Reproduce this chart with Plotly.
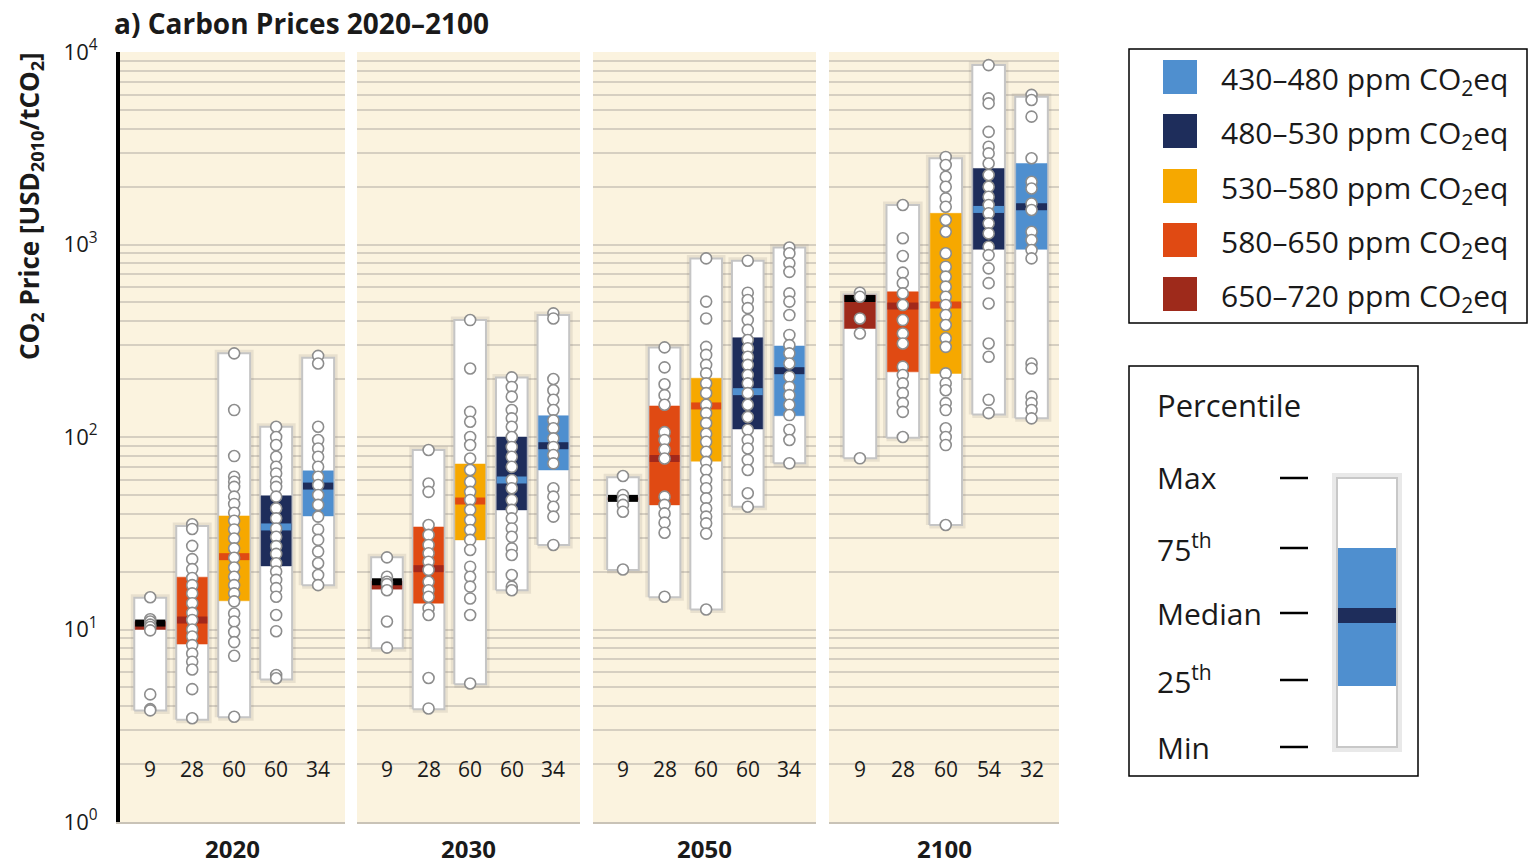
import math
import plotly.graph_objects as go

W, H = 1537, 862
OFF = 8  # page body margin offset
def px(x): return (x - OFF) / W
def py(y): return 1 - (y - OFF) / H

# ---------------- data ----------------
years = ["2020", "2030", "2050", "2100"]
concentration_labels = ["650–720", "580–650", "530–580", "480–530", "430–480"]
iqr_colors = ["#9e2a1b", "#e04a13", "#f6a800", "#1e2d5b", "#4f8fcf"]
median_colors = ["#000000", "#a2281b", "#e04a13", "#4f8fcf", "#1e2d5b"]

counts_2020 = [9, 28, 60, 60, 34]
counts_2030 = [9, 28, 60, 60, 34]
counts_2050 = [9, 28, 60, 60, 34]
counts_2100 = [9, 28, 60, 54, 32]

min_2020 = [3.8, 3.4, 3.5, 5.5, 17.0]
q1_2020 = [10.0, 8.4, 14.1, 21.4, 38.9]
med_2020 = [10.8, 11.2, 23.9, 34.1, 55.6]
q3_2020 = [11.0, 18.7, 38.9, 49.5, 66.7]
max_2020 = [14.6, 34.5, 272, 113, 258]

min_2030 = [8.0, 3.85, 5.2, 16.0, 27.5]
q1_2030 = [16.2, 13.7, 29.2, 41.8, 67.4]
med_2030 = [17.7, 20.7, 46.5, 59.8, 90.1]
q3_2030 = [17.9, 34.1, 72.4, 100, 129]
max_2030 = [23.7, 85.6, 405, 204, 430]

min_2050 = [20.4, 14.7, 12.7, 43.4, 73]
q1_2050 = [47.0, 44.4, 74.9, 110, 129]
med_2050 = [48.0, 77.3, 145, 172, 221]
q3_2050 = [48.5, 145, 202, 328, 297]
max_2050 = [61.7, 292, 847, 824, 965]

min_2100 = [77.5, 99, 34.9, 131, 125]
q1_2100 = [366, 218, 214, 944, 944]
med_2100 = [524, 479, 485, 1521, 1571]
q3_2100 = [545, 568, 1452, 2483, 2636]
max_2100 = [550, 1603, 2805, 8551, 5851]

points_2020 = [
    [14.7, 11.3, 11.0, 10.6, 10.3, 9.9, 4.6, 3.86, 3.8],
    [35.2, 33.3, 27.2, 23.2, 20.6, 18.5, 17.0, 15.4, 13.7, 12.2, 11.2, 10.0, 9.2, 8.3, 7.5, 6.8, 6.2, 4.9, 3.46],
    [272, 138, 79.6, 62.2, 58.5, 55.1, 49.0, 44.9, 40.4, 36.7, 33.1, 29.7, 26.4, 23.6, 21.0, 18.8, 17.0, 15.4, 14.0, 12.1, 11.0, 9.7, 8.6, 7.3, 3.52],
    [113, 100, 90.8, 78.9, 70.0, 64.6, 58.5, 55.1, 49.0, 42.6, 37.8, 33.5, 30.3, 27.1, 24.7, 22.1, 20.0, 18.1, 16.4, 14.8, 11.9, 9.8, 5.8, 5.58],
    [264, 241, 113, 96.5, 87.1, 78.9, 70.0, 62.2, 56.3, 50.0, 44.4, 38.6, 33.1, 29.2, 25.4, 22.1, 19.2, 17.0],
]
points_2030 = [
    [23.7, 18.8, 17.7, 17.2, 16.0, 11.0, 8.05],
    [85.6, 57.3, 51.9, 34.9, 31.0, 27.5, 24.9, 22.5, 20.4, 17.7, 16.0, 14.8, 12.9, 11.9, 5.6, 3.89],
    [405, 227, 135, 120, 100, 90.8, 77.3, 67.4, 58.5, 51.9, 47.1, 41.8, 37.0, 32.9, 29.2, 25.9, 21.2, 18.8, 16.7, 14.5, 11.9, 5.24],
    [204, 182, 162, 138, 125, 113, 100, 88.8, 78.9, 70, 59.8, 54.2, 47.1, 41.8, 37.8, 33.5, 30.3, 26.4, 24.4, 19.2, 16.7, 16.0],
    [439, 413, 200, 175, 156, 138, 122, 111, 98.4, 88.8, 80.6, 72.9, 54.2, 49.0, 43.4, 38.6, 27.5],
]
points_2050 = [
    [62.7, 50.0, 47.1, 44.4, 40.9, 20.5],
    [292, 230, 188, 165, 147, 106, 96.5, 86.1, 77.3, 49, 44.4, 40.1, 35.9, 31.8, 14.8],
    [847, 505, 413, 294, 267, 237, 214, 190, 169, 147, 133, 118, 104, 94.4, 83.8, 74.3, 67.4, 59.8, 54.2, 48, 42.6, 38.6, 35.6, 31.5, 12.7],
    [824, 562, 515, 467, 405, 360, 319, 289, 261, 237, 210, 190, 169, 147, 127, 109, 96.5, 87.1, 76, 67.4, 51, 43.4],
    [965, 900, 798, 721, 557, 505, 430, 339, 300, 272, 241, 206, 182, 165, 147, 130, 109, 96.5, 73],
]
points_2100 = [
    [562, 535, 413, 345, 77.5],
    [1603, 1077, 871, 714, 630, 557, 485, 405, 345, 306, 232, 210, 190, 169, 150, 135, 100],
    [2850, 2588, 2249, 1996, 1737, 1571, 1340, 1165, 900, 767, 681, 604, 535, 485, 430, 382, 326, 294, 214, 190, 175, 150, 138, 111, 100, 90.8, 34.9],
    [8551, 5741, 5408, 3846, 3219, 2973, 2636, 2296, 1996, 1771, 1603, 1452, 1288, 1142, 974, 881, 752, 630, 494, 306, 261, 156, 133],
    [5986, 5632, 4614, 2805, 2118, 1954, 1633, 1510, 1165, 1055, 936, 847, 241, 227, 162, 150, 138, 125],
]

decade_values = [1, 10, 100, 1000, 10000]
decade_labels = ["10<sup>0</sup>", "10<sup>1</sup>", "10<sup>2</sup>", "10<sup>3</sup>", "10<sup>4</sup>"]
count_label_level = 1.88

# ---------------- layout/style ----------------
FONT = "Open Sans"
panel_px = [(120, 345), (357, 580), (593, 816), (829, 1059)]
plot_top, plot_bottom = 52, 822
xrange_ = [-0.72, 4.64]
half_w = 0.38
BG = "#fbf3df"
GRID = "#d6cfc1"

panels = [
    (years[0], min_2020, q1_2020, med_2020, q3_2020, max_2020, points_2020, counts_2020),
    (years[1], min_2030, q1_2030, med_2030, q3_2030, max_2030, points_2030, counts_2030),
    (years[2], min_2050, q1_2050, med_2050, q3_2050, max_2050, points_2050, counts_2050),
    (years[3], min_2100, q1_2100, med_2100, q3_2100, max_2100, points_2100, counts_2100),
]

minor_vals = [m * dv for dv in decade_values[:-1] for m in range(2, 10)]

fig = go.Figure()
annotations = []

for p, (year, mins, q1s, meds, q3s, maxs, pts, cnts) in enumerate(panels):
    xa = "x" if p == 0 else f"x{p+1}"
    ya = "y" if p == 0 else f"y{p+1}"
    for i in range(len(concentration_labels)):
        xl, xr = i - half_w, i + half_w
        fig.add_trace(go.Scatter(
            x=[xl, xr, xr, xl, xl], y=[mins[i], mins[i], maxs[i], maxs[i], mins[i]],
            mode="lines", line=dict(color="rgba(110,100,90,0.13)", width=7),
            hoverinfo="skip", showlegend=False, xaxis=xa, yaxis=ya))
        fig.add_trace(go.Scatter(
            x=[xl, xr, xr, xl, xl], y=[mins[i], mins[i], maxs[i], maxs[i], mins[i]],
            mode="lines", fill="toself", fillcolor="white",
            line=dict(color="#c5c5c5", width=2),
            hoverinfo="skip", showlegend=False, xaxis=xa, yaxis=ya))
        il, ir = i - half_w + 0.02, i + half_w - 0.02
        fig.add_trace(go.Scatter(
            x=[il, ir, ir, il, il], y=[q1s[i], q1s[i], q3s[i], q3s[i], q1s[i]],
            mode="lines", fill="toself", fillcolor=iqr_colors[i],
            line=dict(color=iqr_colors[i], width=0.5),
            hoverinfo="skip", showlegend=False, xaxis=xa, yaxis=ya))
        fig.add_trace(go.Scatter(
            x=[il, ir], y=[meds[i], meds[i]], mode="lines",
            line=dict(color=median_colors[i], width=7),
            hoverinfo="skip", showlegend=False, xaxis=xa, yaxis=ya))
        fig.add_trace(go.Scatter(
            x=[i] * len(pts[i]), y=pts[i], mode="markers",
            marker=dict(size=11, color="white", line=dict(color="#8d8d8d", width=1.6)),
            hoverinfo="skip", showlegend=False, xaxis=xa, yaxis=ya))
        annotations.append(dict(
            x=i, y=math.log10(count_label_level), xref=xa, yref=ya,
            text=str(cnts[i]), showarrow=False,
            font=dict(family=FONT, size=21, color="#1a1a1a")))
    annotations.append(dict(
        x=0.5, y=py(848), xref=f"{xa} domain", yref="paper",
        text=f"<b>{year}</b>", showarrow=False, yanchor="middle",
        font=dict(family=FONT, size=24, color="#1a1a1a")))

layout = dict(
    width=W, height=H, margin=dict(l=0, r=0, t=0, b=0, autoexpand=False),
    paper_bgcolor="white", plot_bgcolor=BG, showlegend=False,
    font=dict(family=FONT, color="#1a1a1a"),
)
for p, (a, b) in enumerate(panel_px):
    xkey = "xaxis" if p == 0 else f"xaxis{p+1}"
    ykey = "yaxis" if p == 0 else f"yaxis{p+1}"
    layout[xkey] = dict(
        domain=[px(a), px(b)], range=xrange_, showgrid=False, zeroline=False,
        showticklabels=False, ticks="", showline=True, linecolor="#c9c3b7", linewidth=2,
        anchor="y" if p == 0 else f"y{p+1}", fixedrange=True, automargin=False)
    ydict = dict(
        type="log", range=[0, 4], domain=[py(plot_bottom), py(plot_top)],
        tickmode="array", tickvals=decade_values, ticktext=decade_labels,
        showgrid=True, gridcolor=GRID, gridwidth=1.5, zeroline=False, ticks="",
        minor=dict(tickmode="array", tickvals=minor_vals, showgrid=True,
                   gridcolor=GRID, gridwidth=1.5, ticks=""),
        anchor="x" if p == 0 else f"x{p+1}", fixedrange=True, automargin=False)
    if p == 0:
        ydict.update(showline=True, linecolor="black", linewidth=4,
                     tickfont=dict(family=FONT, size=22, color="#1a1a1a"),
                     ticklabelstandoff=14)
    else:
        ydict.update(matches="y", showticklabels=False, showline=False)
    layout[ykey] = ydict

fig.update_layout(**layout)

annotations.append(dict(
    x=px(112), y=py(23), xref="paper", yref="paper", xanchor="left", yanchor="middle",
    text="<b>a) Carbon Prices 2020–2100</b>", showarrow=False,
    font=dict(family=FONT, size=28, color="#1a1a1a")))
annotations.append(dict(
    x=px(30), y=py(206), xref="paper", yref="paper", xanchor="center", yanchor="middle",
    text="<b>CO<sub>2</sub> Price [USD<sub>2010</sub>/tCO<sub>2</sub>]</b>", textangle=-90,
    showarrow=False, font=dict(family=FONT, size=26, color="#1a1a1a")))

shapes = []
shapes.append(dict(type="rect", xref="paper", yref="paper",
                   x0=px(1129), x1=px(1527), y0=py(323), y1=py(49),
                   line=dict(color="black", width=1.5), fillcolor="white"))
legend_rows_y = [77, 131, 186, 240, 294]
for r, idx in enumerate(range(len(concentration_labels) - 1, -1, -1)):
    yc = legend_rows_y[r]
    shapes.append(dict(type="rect", xref="paper", yref="paper",
                       x0=px(1163), x1=px(1197), y0=py(yc + 17), y1=py(yc - 17),
                       line=dict(width=0), fillcolor=iqr_colors[idx]))
    annotations.append(dict(
        x=px(1219), y=py(yc + 3), xref="paper", yref="paper", xanchor="left", yanchor="middle",
        text=f"{concentration_labels[idx]} ppm CO<sub>2</sub>eq", showarrow=False,
        font=dict(family=FONT, size=30, color="#1a1a1a")))

shapes.append(dict(type="rect", xref="paper", yref="paper",
                   x0=px(1129), x1=px(1418), y0=py(776), y1=py(366),
                   line=dict(color="black", width=1.5), fillcolor="white"))
annotations.append(dict(
    x=px(1155), y=py(405), xref="paper", yref="paper", xanchor="left", yanchor="middle",
    text="Percentile", showarrow=False, font=dict(family=FONT, size=31, color="#1a1a1a")))
key_labels = ["Max", "75<sup>th</sup>", "Median", "25<sup>th</sup>", "Min"]
key_y = [478, 548, 613, 680, 747]
for lab, yk in zip(key_labels, key_y):
    annotations.append(dict(
        x=px(1155), y=py(yk), xref="paper", yref="paper", xanchor="left", yanchor="middle",
        text=lab, showarrow=False, font=dict(family=FONT, size=30, color="#1a1a1a")))
    shapes.append(dict(type="line", xref="paper", yref="paper",
                       x0=px(1280), x1=px(1308), y0=py(yk), y1=py(yk),
                       line=dict(color="black", width=2.5)))
shapes.append(dict(type="rect", xref="paper", yref="paper",
                   x0=px(1335), x1=px(1399), y0=py(749), y1=py(476),
                   line=dict(color="rgba(110,110,110,0.15)", width=6), fillcolor="white"))
shapes.append(dict(type="rect", xref="paper", yref="paper",
                   x0=px(1337), x1=px(1397), y0=py(747), y1=py(478),
                   line=dict(color="#c8c8c8", width=2), fillcolor="white"))
shapes.append(dict(type="rect", xref="paper", yref="paper",
                   x0=px(1338), x1=px(1396), y0=py(686), y1=py(548),
                   line=dict(width=0), fillcolor=iqr_colors[4]))
shapes.append(dict(type="rect", xref="paper", yref="paper",
                   x0=px(1338), x1=px(1396), y0=py(623), y1=py(608),
                   line=dict(width=0), fillcolor=median_colors[4]))

fig.update_layout(annotations=annotations, shapes=shapes)
fig.write_html("out.html")
